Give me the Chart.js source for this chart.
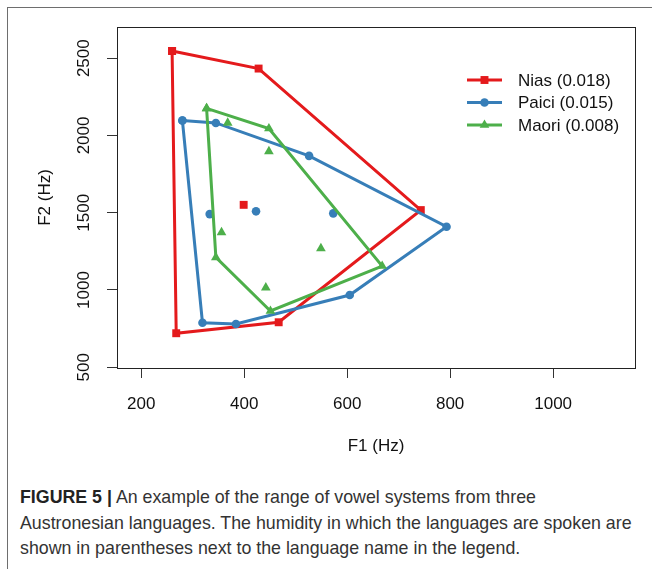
<!DOCTYPE html>
<html>
<head>
<meta charset="utf-8">
<script src="https://cdn.jsdelivr.net/npm/chart.js@4.4.1/dist/chart.umd.min.js"></script>
<style>
  html, body { margin: 0; padding: 0; background: #fff; width: 652px; height: 569px; overflow: hidden; }
  #frame { position: absolute; left: 7px; top: 7px; width: 700px; height: 620px;
           border-left: 1.5px solid #6e6e6e; border-top: 1.5px solid #6e6e6e; }
  #wrap { position: absolute; left: 0; top: 0; width: 652px; height: 470px; }
  #caption { position: absolute; left: 20px; top: 485px; color: #333;
             font-family: "Liberation Sans", Arial, sans-serif; font-size: 17.8px;
             line-height: 25.5px; white-space: nowrap; }
  #caption b { color: #222; }
</style>
</head>
<body>
<div id="frame"></div>
<div id="wrap"><canvas id="vowelChart" width="652" height="470"></canvas></div>
<div id="caption"><b>FIGURE 5 |</b> An example of the range of vowel systems from three<br>Austronesian languages. The humidity in which the languages are spoken are<br>shown in parentheses next to the language name in the legend.</div>

<script>
//-----------------------------------------------------
// Vowel space of three Austronesian languages (F1 / F2)
//-----------------------------------------------------

const xTicks = [200, 400, 600, 800, 1000];
const yTicks = [500, 1000, 1500, 2000, 2500];

// Nias (0.018) - hull corners then inner vowels
const niasHullF1 = [260, 428, 743, 467, 268];
const niasHullF2 = [2547, 2433, 1517, 791, 720];
const niasInnerF1 = [399];
const niasInnerF2 = [1551];

// Paici (0.015)
const paiciHullF1 = [280, 345, 526, 793, 605, 384, 319];
const paiciHullF2 = [2097, 2081, 1868, 1409, 967, 780, 788];
const paiciInnerF1 = [333, 423, 573];
const paiciInnerF2 = [1491, 1509, 1496];

// Maori (0.008)
const maoriHullF1 = [327, 448, 668, 451, 345];
const maoriHullF2 = [2175, 2045, 1155, 864, 1211];
const maoriInnerF1 = [368, 448, 356, 549, 442];
const maoriInnerF2 = [2081, 1897, 1373, 1269, 1015];

const languages = ["Nias (0.018)", "Paici (0.015)", "Maori (0.008)"];
const colors = ["#E41A1C", "#377EB8", "#4DAF4A"];
const markers = ["rect", "circle", "triangle"];
const markerSize = [5.6, 4.3, 5.6];

const FONT = '"Liberation Sans", Arial, sans-serif';

function toPoints(xs, ys, close) {
    const pts = xs.map((x, i) => ({ x: x, y: ys[i] }));
    if (close) pts.push({ x: xs[0], y: ys[0] });
    return pts;
}

const hulls = [[niasHullF1, niasHullF2], [paiciHullF1, paiciHullF2], [maoriHullF1, maoriHullF2]];
const inners = [[niasInnerF1, niasInnerF2], [paiciInnerF1, paiciInnerF2], [maoriInnerF1, maoriInnerF2]];

const datasets = [];
languages.forEach((name, i) => {
    const common = {
        pointStyle: markers[i],
        pointRadius: markerSize[i],
        pointBackgroundColor: colors[i],
        pointBorderColor: colors[i],
        pointBorderWidth: 0,
        order: 3 - i
    };
    datasets.push(Object.assign({
        label: name,
        data: toPoints(hulls[i][0], hulls[i][1], true),
        showLine: true,
        borderColor: colors[i],
        borderWidth: 3,
        tension: 0
    }, common));
    datasets.push(Object.assign({
        label: name + " inner",
        data: toPoints(inners[i][0], inners[i][1], false),
        showLine: false
    }, common));
});

// box round the plot region
const plotBox = {
    id: 'plotBox',
    afterDraw(chart) {
        const a = chart.chartArea, c = chart.ctx;
        c.save();
        c.strokeStyle = '#222';
        c.lineWidth = 1;
        c.strokeRect(Math.round(a.left) + 0.5, Math.round(a.top) + 0.5,
            Math.round(a.right - a.left), Math.round(a.bottom - a.top));
        c.restore();
    }
};

// R style y labels, turned to read upwards
const rotatedYTicks = {
    id: 'rotatedYTicks',
    afterDraw(chart) {
        const y = chart.scales.y, c = chart.ctx;
        c.save();
        c.font = '17px ' + FONT;
        c.fillStyle = '#111';
        c.textAlign = 'center';
        c.textBaseline = 'alphabetic';
        yTicks.forEach(v => {
            c.save();
            c.translate(83, y.getPixelForValue(v));
            c.rotate(-Math.PI / 2);
            c.fillText(String(v), 0, 6);
            c.restore();
        });
        c.restore();
    }
};

// legend: line with marker, then text
const lineLegend = {
    id: 'lineLegend',
    afterDraw(chart) {
        const c = chart.ctx;
        const rows = [80, 102.5, 125];
        c.save();
        languages.forEach((name, i) => {
            const y = rows[i];
            c.strokeStyle = colors[i];
            c.lineWidth = 3;
            c.beginPath();
            c.moveTo(467, y);
            c.lineTo(502, y);
            c.stroke();
            c.fillStyle = colors[i];
            Chart.helpers.drawPoint(c, {
                pointStyle: markers[i], radius: markerSize[i], rotation: 0, borderWidth: 0
            }, 484.5, y);
            c.fillStyle = '#111';
            c.font = '17px ' + FONT;
            c.textAlign = 'left';
            c.textBaseline = 'middle';
            c.fillText(name, 518, y + 1);
        });
        c.restore();
    }
};

new Chart(document.getElementById('vowelChart'), {
    type: 'scatter',
    data: { datasets: datasets },
    options: {
        responsive: false,
        animation: false,
        layout: { padding: { top: 27, right: 17, left: 0, bottom: 0 } },
        plugins: { legend: { display: false }, tooltip: { enabled: false } },
        scales: {
            x: {
                type: 'linear',
                min: 153,
                max: 1159,
                afterBuildTicks: s => { s.ticks = xTicks.map(v => ({ value: v })); },
                afterFit: s => { s.height = 470 - 368; },
                grid: { drawOnChartArea: false, drawTicks: true, tickLength: 10, color: '#333', lineWidth: 1 },
                border: { display: false },
                ticks: { font: { family: FONT, size: 17 }, color: '#111', padding: 16, maxRotation: 0,
                         callback: v => String(v) },
                title: { display: true, text: 'F1 (Hz)', color: '#111',
                         font: { family: FONT, size: 17 }, padding: { top: 0, bottom: 13 } }
            },
            y: {
                type: 'linear',
                min: 495,
                max: 2702,
                afterBuildTicks: s => { s.ticks = yTicks.map(v => ({ value: v })); },
                afterFit: s => { s.width = 117; },
                grid: { drawOnChartArea: false, drawTicks: true, tickLength: 10, color: '#333', lineWidth: 1 },
                border: { display: false },
                ticks: { display: false },
                title: { display: true, text: 'F2 (Hz)', color: '#111',
                         font: { family: FONT, size: 17 }, padding: { top: 35, bottom: 0 } }
            }
        }
    },
    plugins: [plotBox, rotatedYTicks, lineLegend]
});
</script>
</body>
</html>
